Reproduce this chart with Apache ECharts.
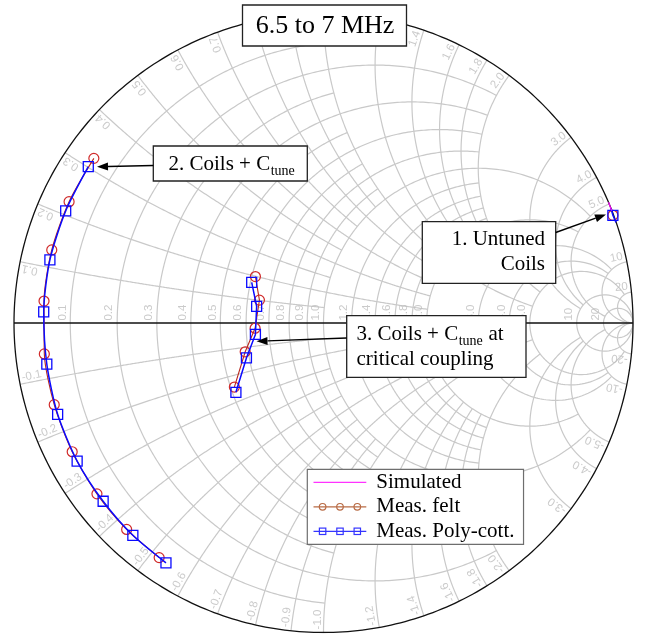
<!DOCTYPE html>
<html>
<head>
<meta charset="utf-8">
<script src="https://cdn.jsdelivr.net/npm/echarts@6/dist/echarts.min.js"></script>
<style>
html,body{margin:0;padding:0;background:#fff;}
#chart{width:646px;height:637px;}
</style>
</head>
<body>
<div id="chart"></div>
<script>
// Reflection coefficients [real, imag], 6.5 to 7 MHz
const simulatedUntuned = [[0.921, 0.390], [0.931, 0.363]];
const feltUntuned = [[0.935, 0.348]];
const polyUntuned = [[0.929, 0.370], [0.935, 0.348], [0.945, 0.325]];

const feltCoilsCtune = [[-0.742, 0.532], [-0.822, 0.392], [-0.878, 0.236], [-0.903, 0.071], [-0.902, -0.100],
  [-0.870, -0.264], [-0.812, -0.416], [-0.732, -0.552], [-0.636, -0.667], [-0.531, -0.758]];
const polyCoilsCtune = [[-0.760, 0.505], [-0.833, 0.362], [-0.884, 0.204], [-0.904, 0.036], [-0.894, -0.133],
  [-0.859, -0.295], [-0.796, -0.446], [-0.712, -0.576], [-0.616, -0.686], [-0.509, -0.775]];

const feltCritical = [[-0.220, 0.150], [-0.207, 0.074], [-0.221, -0.017], [-0.253, -0.093], [-0.288, -0.207]];
const polyCritical = [[-0.232, 0.131], [-0.216, 0.054], [-0.220, -0.037], [-0.249, -0.113], [-0.283, -0.224]];

// Smith grid: normalized resistance / reactance values and how far each line runs
const gridValues = [0.1, 0.2, 0.3, 0.4, 0.5, 0.6, 0.7, 0.8, 0.9, 1.0, 1.2, 1.4, 1.6, 1.8, 2.0, 3, 4, 5, 10, 20];
const gridLimits = [1, 2, 1, 2, 1, 2, 1, 2, 1, 5, 2, 2, 2, 2, 5, 10, 10, 20, Infinity, Infinity];

const legendNames = ['Simulated', 'Meas. felt', 'Meas. Poly-cott.'];

// z = r + jx  ->  reflection coefficient
function gamma(r, x) {
  const d = (r + 1) * (r + 1) + x * x;
  return [(r * r + x * x - 1) / d, 2 * x / d];
}
function rCircle(r, lim) {
  const a = Math.atan(lim), pts = [];
  for (let i = 0; i <= 400; i++) {
    const t = -a + 2 * a * i / 400;
    pts.push(gamma(r, Math.tan(t)));
  }
  return pts;
}
function xArc(x, lim) {
  const a = Math.atan(lim), pts = [];
  for (let i = 0; i <= 300; i++) pts.push(gamma(Math.tan(a * i / 300), x));
  return pts;
}
function fmt(v) { return v < 10 ? v.toFixed(1) : String(v); }

const gridLines = [];
gridValues.forEach((v, i) => {
  const L = gridLimits[i];
  gridLines.push({coords: rCircle(v, L)});
  gridLines.push({coords: xArc(v, L)});
  gridLines.push({coords: xArc(-v, L)});
});

const labelFont = {color: '#bdbdbd', fontSize: 11.5, fontFamily: 'Liberation Sans'};
const gridLabels = [];
gridValues.forEach(v => {
  // resistance labels along the real axis
  const g0 = gamma(v, 0);
  gridLabels.push({value: [g0[0] - 0.006, 0.008],
    label: Object.assign({show: true, formatter: fmt(v), rotate: 90, align: 'left', verticalAlign: 'bottom', position: 'inside'}, labelFont)});
  // reactance labels on the rim
  [1, -1].forEach(s => {
    const g = gamma(0, s * v);
    const th = Math.atan2(g[1], g[0]) * 180 / Math.PI;
    gridLabels.push({value: [g[0] * 0.99, g[1] * 0.99],
      label: Object.assign({show: true, formatter: (s < 0 ? '-' : '') + fmt(v),
        rotate: s > 0 ? th : th + 180, align: s > 0 ? 'right' : 'left', verticalAlign: 'bottom', position: 'inside'}, labelFont)});
  });
});

const frameLines = [{coords: rCircle(0, Infinity)}, {coords: [[-1, 0], [1, 0]]}];

const RED = '#d02a2a', REDLINE = '#b8281e', BLUE = '#0a0aff', MAG = '#ff00ff';
function feltSeries(data, smooth) {
  return {type: 'line', name: legendNames[1], data: data, smooth: smooth, symbol: 'circle', symbolSize: 10, showAllSymbol: true,
    lineStyle: {color: REDLINE, width: 1.1}, itemStyle: {color: 'rgba(0,0,0,0)', borderColor: RED, borderWidth: 1.2}, z: 4, silent: true, animation: false};
}
function polySeries(data, smooth) {
  return {type: 'line', name: legendNames[2], data: data, smooth: smooth, symbol: 'rect', symbolSize: 10, showAllSymbol: true,
    lineStyle: {color: BLUE, width: 1.5}, itemStyle: {color: 'rgba(0,0,0,0)', borderColor: BLUE, borderWidth: 1.3}, z: 5, silent: true, animation: false};
}

function svgIcon(kind) {
  let s = '<svg xmlns="http://www.w3.org/2000/svg" width="58" height="14" viewBox="0 0 58 14">';
  if (kind === 0) s += '<line x1="0" y1="7" x2="53" y2="7" stroke="#ff33ff" stroke-width="1.3"/>';
  if (kind === 1) {
    s += '<line x1="0" y1="7" x2="53" y2="7" stroke="#b86b45" stroke-width="1.3"/>';
    [9.3, 26.7, 44].forEach(cx => { s += '<circle cx="' + cx + '" cy="7" r="3.3" fill="none" stroke="#b86b45" stroke-width="1.2"/>'; });
  }
  if (kind === 2) {
    s += '<line x1="0" y1="7" x2="53" y2="7" stroke="#3535ff" stroke-width="1.3"/>';
    [9.3, 26.7, 44].forEach(cx => { s += '<rect x="' + (cx - 3.2) + '" y="3.8" width="6.4" height="6.4" fill="none" stroke="#3535ff" stroke-width="1.2"/>'; });
  }
  s += '</svg>';
  return 'image://data:image/svg+xml;charset=utf-8,' + encodeURIComponent(s);
}

// text measuring for the subscripted labels
const mctx = document.createElement('canvas').getContext('2d');
function textW(str, font) { mctx.font = font; return mctx.measureText(str).width; }
const F21 = '21px "Liberation Serif"', F14 = '14px "Liberation Serif"';

function txt(str, x, y, font, align) {
  return {type: 'text', x: x, y: y, z: 101, silent: true,
    style: {text: str, font: font, fill: '#000', align: align || 'left', verticalAlign: 'middle'}};
}
function box(x, y, w, h) {
  return {type: 'rect', z: 100, silent: true, shape: {x: x, y: y, width: w, height: h},
    style: {fill: '#fff', stroke: '#222', lineWidth: 1.3}};
}
function arrow(x1, y1, x2, y2) {
  const ang = Math.atan2(y2 - y1, x2 - x1), len = 11, hw = 4;
  const bx = x2 - len * Math.cos(ang), by = y2 - len * Math.sin(ang);
  const nx = -Math.sin(ang) * hw, ny = Math.cos(ang) * hw;
  return [
    {type: 'line', z: 102, silent: true, shape: {x1: x1, y1: y1, x2: bx, y2: by}, style: {stroke: '#000', lineWidth: 1.4}},
    {type: 'polygon', z: 102, silent: true, shape: {points: [[x2, y2], [bx + nx, by + ny], [bx - nx, by - ny]]}, style: {fill: '#000'}}
  ];
}

const w2 = textW('2. Coils + C', F21);
const w3 = textW('3. Coils + C', F21), w3s = textW('tune', F14);

const graphics = [
  box(242.5, 5, 164, 41),
  txt('6.5 to 7 MHz', 325, 26.5, '26px "Liberation Serif"', 'center'),

  box(153.3, 146, 154, 35),
  txt('2. Coils + C', 168.5, 164.5, F21),
  txt('tune', 168.5 + w2 + 0.5, 171, F14),

  box(422.3, 221.7, 133.4, 61.6),
  txt('1. Untuned', 545, 239.5, F21, 'right'),
  txt('Coils', 545, 264.5, F21, 'right'),

  box(346.7, 315.7, 179.3, 61.6),
  txt('3. Coils + C', 356.5, 334.5, F21),
  txt('tune', 356.5 + w3 + 0.5, 341, F14),
  txt(' at', 356.5 + w3 + w3s + 1, 334.5, F21),
  txt('critical coupling', 356.5, 359.5, F21)
].concat(arrow(555.7, 232.5, 606, 214.5), arrow(153.3, 165.5, 97, 166.7), arrow(346.7, 338, 256.5, 341.3));

const chart = echarts.init(document.getElementById('chart'), null, {renderer: 'canvas'});
chart.setOption({
  animation: false,
  backgroundColor: '#fff',
  grid: {left: 14, top: 13.5, width: 619, height: 619},
  xAxis: {type: 'value', min: -1, max: 1, show: false},
  yAxis: {type: 'value', min: -1, max: 1, show: false},
  legend: {
    data: legendNames.map((n, i) => ({name: n, icon: svgIcon(i)})),
    orient: 'vertical', left: 307.3, top: 469.3, itemWidth: 58, itemHeight: 14, itemGap: 0.5,
    padding: [1, 9, 1, 6], borderColor: '#6e6e6e', borderWidth: 1.2, backgroundColor: '#fff',
    textStyle: {fontFamily: 'Liberation Serif', fontSize: 21, color: '#000', lineHeight: 24},
    selectedMode: false, z: 20
  },
  series: [
    {type: 'lines', coordinateSystem: 'cartesian2d', polyline: true, silent: true, z: 1,
      lineStyle: {color: '#c9c9c9', width: 1.2, opacity: 1}, data: gridLines},
    {type: 'scatter', symbolSize: 0, silent: true, z: 2, data: gridLabels},
    {type: 'lines', coordinateSystem: 'cartesian2d', polyline: true, silent: true, z: 3,
      lineStyle: {color: '#111', width: 1.3, opacity: 1}, data: frameLines},
    feltSeries(feltCoilsCtune, 0.25),
    feltSeries(feltCritical, false),
    feltSeries(feltUntuned, false),
    polySeries(polyCoilsCtune, 0.25),
    polySeries(polyCritical, false),
    polySeries(polyUntuned.map((p, i) => i === 1 ? p : {value: p, symbol: 'none'}), false),
    {type: 'line', name: legendNames[0], data: simulatedUntuned, symbol: 'none', lineStyle: {color: MAG, width: 1.2}, z: 6, silent: true}
  ],
  graphic: graphics
});
</script>
</body>
</html>
